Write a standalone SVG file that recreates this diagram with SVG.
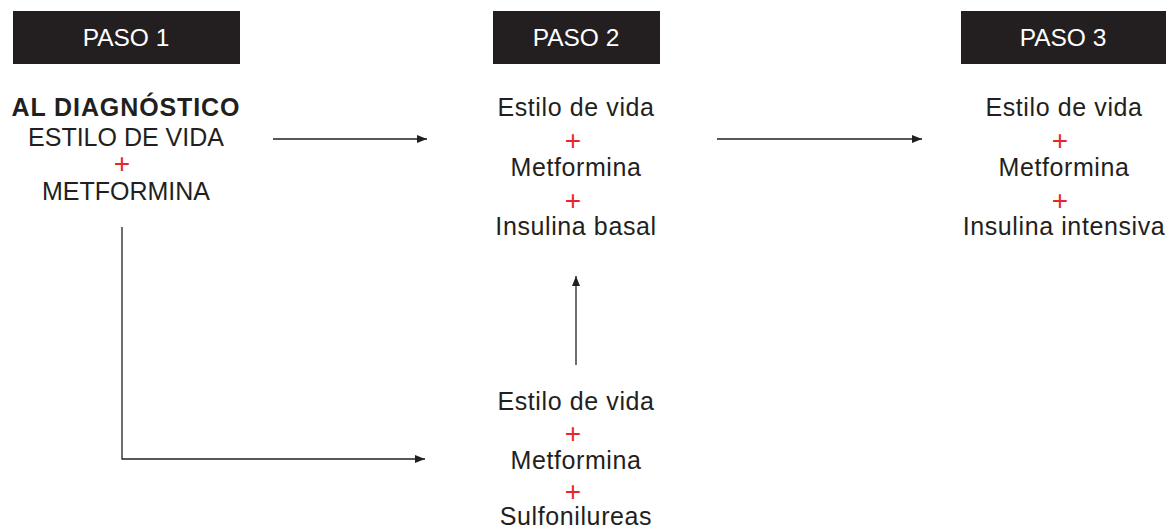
<svg xmlns="http://www.w3.org/2000/svg" width="1171" height="528" viewBox="0 0 1171 528">
<style>
.hdr{fill:#231f20}
.ht{fill:#fff;font-family:"Liberation Sans",Arial,sans-serif;font-size:24.5px;text-anchor:middle}
.t{fill:#231f20;font-family:"Liberation Sans",Arial,sans-serif;font-size:25px;text-anchor:middle;letter-spacing:0.6px}
.u{letter-spacing:0}
.b{font-weight:bold;letter-spacing:0.9px}
.p{fill:#e8262a;font-family:"Liberation Sans",Arial,sans-serif;font-size:28px;text-anchor:middle}
.c{fill:none;stroke:#231f20;stroke-width:1.3}
</style>
<defs>
<marker id="ah" viewBox="0 0 10 10" refX="10" refY="5" markerWidth="10" markerHeight="10" markerUnits="userSpaceOnUse" orient="auto">
<path d="M0,1 L10,5 L0,9 Z" fill="#231f20"/>
</marker>
</defs>
<rect width="1171" height="528" fill="#fff"/>
<g id="paso1">
<rect class="hdr" x="13" y="11" width="227" height="53"/>
<text class="ht" x="126" y="46">PASO 1</text>
<text class="t b" x="126" y="116">AL DIAGNÓSTICO</text>
<text class="t u" x="126" y="146">ESTILO DE VIDA</text>
<text class="p" x="122" y="173">+</text>
<text class="t u" x="126" y="200">METFORMINA</text>
</g>
<g id="paso2">
<rect class="hdr" x="493" y="11" width="167" height="53"/>
<text class="ht" x="576" y="46">PASO 2</text>
<text class="t" x="576" y="116">Estilo de vida</text>
<text class="p" x="573" y="150">+</text>
<text class="t" x="576" y="176">Metformina</text>
<text class="p" x="573" y="210">+</text>
<text class="t" x="576" y="235">Insulina basal</text>
</g>
<g id="paso3">
<rect class="hdr" x="961" y="11" width="205" height="53"/>
<text class="ht" x="1063" y="46">PASO 3</text>
<text class="t" x="1064" y="116">Estilo de vida</text>
<text class="p" x="1060" y="150">+</text>
<text class="t" x="1064" y="176">Metformina</text>
<text class="p" x="1060" y="210">+</text>
<text class="t" x="1064" y="235">Insulina intensiva</text>
</g>
<g id="alt">
<text class="t" x="576" y="410">Estilo de vida</text>
<text class="p" x="573" y="443">+</text>
<text class="t" x="576" y="469">Metformina</text>
<text class="p" x="573" y="501">+</text>
<text class="t" x="576" y="525">Sulfonilureas</text>
</g>
<g id="connectors">
<path class="c" d="M273,139 H427" marker-end="url(#ah)"/>
<path class="c" d="M717,139 H922" marker-end="url(#ah)"/>
<path class="c" d="M576,365 V276" marker-end="url(#ah)"/>
<path class="c" d="M122,227 V459 H425" marker-end="url(#ah)"/>
</g>
</svg>
